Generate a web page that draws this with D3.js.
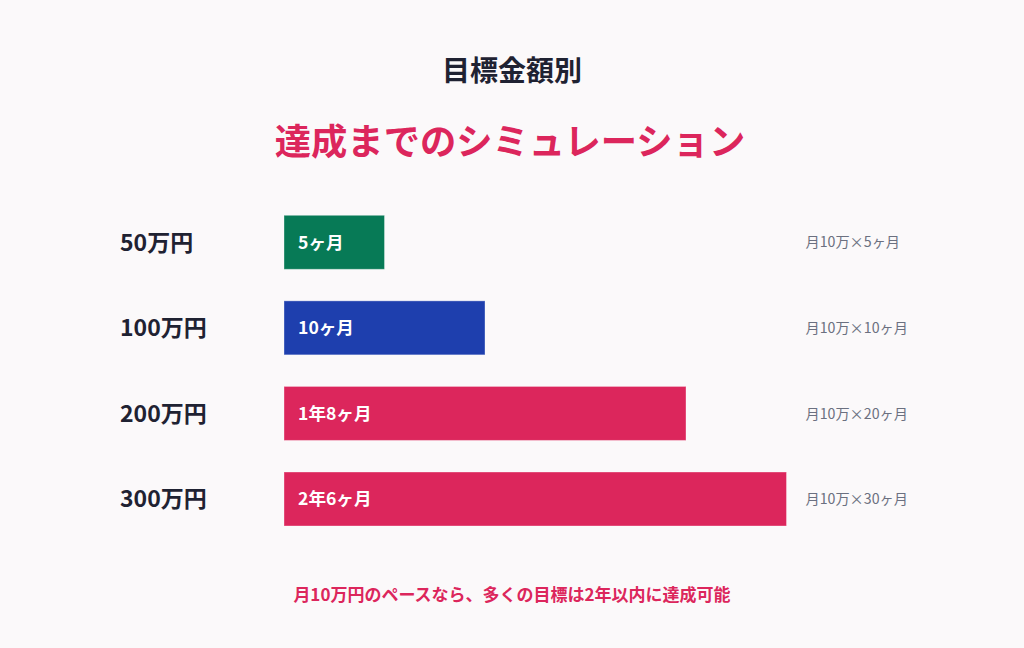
<!DOCTYPE html>
<html><head><meta charset="utf-8">
<script src="https://cdn.jsdelivr.net/npm/d3@7"></script>
<style>
html,body{margin:0;padding:0;background:#fbf9fa;}
svg{display:block;font-family:"Noto Sans CJK JP","Noto Sans",sans-serif;}
</style></head>
<body>
<svg id="chart" width="1024" height="648"></svg>
<script>
const title = "目標金額別";
const subtitle = "達成までのシミュレーション";
const footnote = "月10万円のペースなら、多くの目標は2年以内に達成可能";
const categories = ["50万円", "100万円", "200万円", "300万円"];
const months = [5, 10, 20, 30];
const durationLabels = ["5ヶ月", "10ヶ月", "1年8ヶ月", "2年6ヶ月"];
const formulaLabels = ["月10万×5ヶ月", "月10万×10ヶ月", "月10万×20ヶ月", "月10万×30ヶ月"];
const barColors = ["#077a56", "#1e3fae", "#dc265c", "#dc265c"];

const W = 1024, H = 648;
const svg = d3.select("#chart").attr("viewBox", `0 0 ${W} ${H}`);
svg.append("rect").attr("width", W).attr("height", H).attr("fill", "#fbf9fa");

const rows = categories.map((c, i) => ({cat: c, m: months[i], dur: durationLabels[i], f: formulaLabels[i], col: barColors[i]}));

const x = d3.scaleLinear().domain([0, 25]).range([284, 786.5]).clamp(true);
const y = d3.scaleBand().domain(categories).range([215.3, 526]).paddingInner(0.369).paddingOuter(0);

svg.append("text").attr("x", 512).attr("y", 81).attr("text-anchor", "middle")
  .attr("font-size", 28).attr("font-weight", 700).attr("fill", "#1f2232").text(title);
svg.append("text").attr("x", 510).attr("y", 155).attr("text-anchor", "middle")
  .attr("font-size", 36.3).attr("font-weight", 700).attr("fill", "#dc265c").text(subtitle);

const g = svg.append("g");
const row = g.selectAll("g.row").data(rows).join("g").attr("class", "row");

row.append("text")
  .attr("x", 120).attr("y", d => y(d.cat) + y.bandwidth() / 2).attr("dy", "0.36em")
  .attr("font-size", 23).attr("font-weight", 700).attr("fill", "#1f2232")
  .text(d => d.cat);

row.append("rect")
  .attr("x", x(0)).attr("y", d => y(d.cat))
  .attr("width", d => x(d.m) - x(0)).attr("height", y.bandwidth())
  .attr("fill", d => d.col)
  .attr("stroke", "rgba(255,255,255,0.35)").attr("stroke-width", 1);

row.append("text")
  .attr("x", x(0) + 14).attr("y", d => y(d.cat) + y.bandwidth() / 2).attr("dy", "0.36em")
  .attr("font-size", 17.6).attr("font-weight", 700).attr("fill", "#ffffff")
  .text(d => d.dur);

row.append("text")
  .attr("x", 805.5).attr("y", d => y(d.cat) + y.bandwidth() / 2).attr("dy", "0.36em")
  .attr("font-size", 14.2).attr("font-weight", 400).attr("fill", "#6b7080")
  .text(d => d.f);

svg.append("text").attr("x", 512).attr("y", 601).attr("text-anchor", "middle")
  .attr("font-size", 17).attr("font-weight", 700).attr("fill", "#dc265c").text(footnote);
</script>
</body></html>
